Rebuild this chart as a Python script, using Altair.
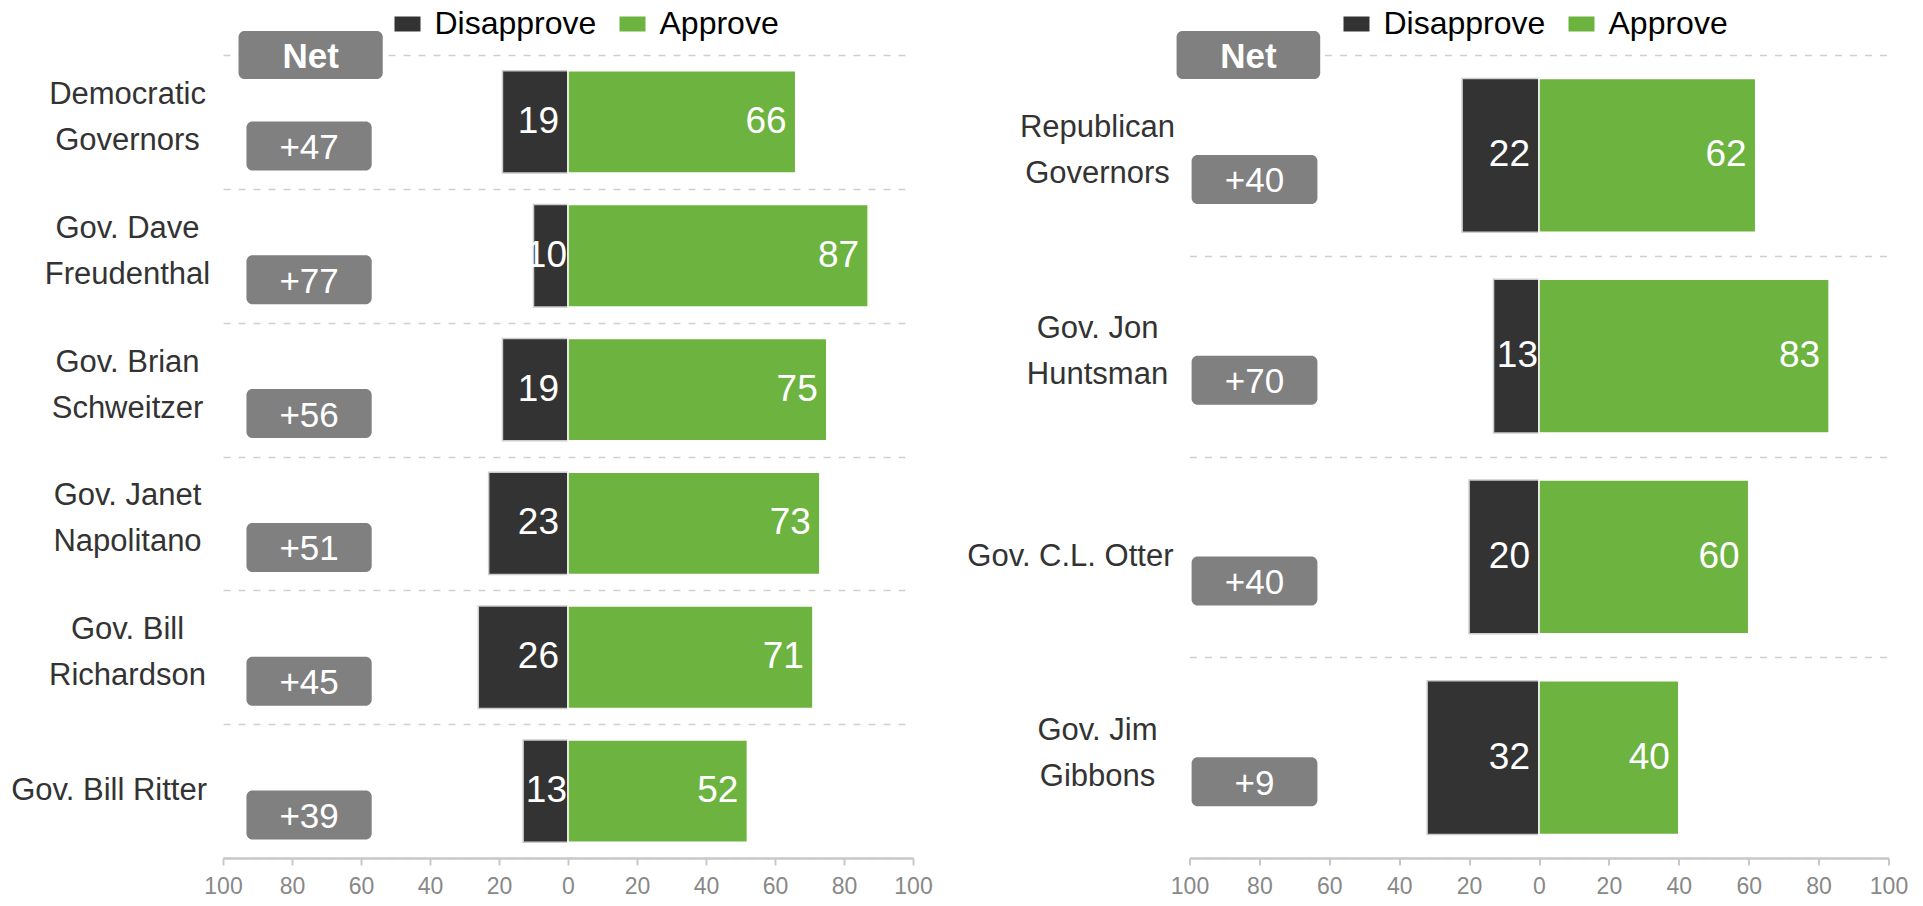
import altair as alt
import pandas as pd

FONT = "Liberation Sans"

# ---- data ----
left_names = ["Democratic|Governors", "Gov. Dave|Freudenthal", "Gov. Brian|Schweitzer",
              "Gov. Janet|Napolitano", "Gov. Bill|Richardson", "Gov. Bill Ritter"]
left_disapprove = [19, 10, 19, 23, 26, 13]
left_approve = [66, 87, 75, 73, 71, 52]
left_net = ["+47", "+77", "+56", "+51", "+45", "+39"]

right_names = ["Republican|Governors", "Gov. Jon|Huntsman", "Gov. C.L. Otter", "Gov. Jim|Gibbons"]
right_disapprove = [22, 13, 20, 32]
right_approve = [62, 83, 60, 40]
right_net = ["+40", "+70", "+40", "+9"]

series = ["Disapprove", "Approve"]
colors = ["#333333", "#6cb33f"]
tick_values = [-100, -80, -60, -40, -20, 0, 20, 40, 60, 80, 100]
header_text = ["Net"]

RECT_PATH = "M-1,-0.577L1,-0.577L1,0.577L-1,0.577Z"


def panel(names, dis, app, net, w, h, multi_pad, lab_size, head_x, box_x, leg_x, leg_y):
    df = pd.DataFrame({"name": names, "Disapprove": dis, "Approve": app, "net": net})
    base = alt.Chart(df)
    yscale = alt.Scale(domain=names, paddingInner=0, paddingOuter=0)
    yaxis = alt.Axis(title=None, grid=True, gridDash=[7, 8], gridColor="#cfcfcf",
                     gridWidth=1.5, tickBand="extent", domain=False, ticks=False,
                     labels=False)
    y_main = alt.Y("name:N", sort=names, scale=yscale, axis=yaxis)
    y_plain = alt.Y("name:N", sort=names, scale=yscale)
    xscale = alt.Scale(domain=[-100, 100], nice=False, zero=False)
    xaxis = alt.Axis(title=None, values=tick_values, labelExpr="abs(datum.value)",
                     grid=False, domainColor="#c8c8c8", domainWidth=2.5,
                     tickColor="#c8c8c8", tickWidth=2, tickSize=7, labelFlush=False,
                     labelFontSize=23, labelFont=FONT, labelColor="#888888",
                     labelPadding=10)

    bars = base.transform_fold(series, as_=["key", "val"]).transform_calculate(
        lo="datum.key == 'Disapprove' ? -datum.val : 0",
        hi="datum.key == 'Disapprove' ? 0 : datum.val",
    ).mark_bar(height={"band": 0.765}, strokeWidth=1.5).encode(
        y=y_main,
        x=alt.X("lo:Q", scale=xscale, axis=xaxis),
        x2="hi:Q",
        color=alt.Color("key:N", scale=alt.Scale(domain=series, range=colors),
                        legend=alt.Legend(orient="none", legendX=leg_x, legendY=leg_y,
                                          direction="horizontal", title=None,
                                          symbolType=RECT_PATH, symbolSize=676,
                                          symbolStrokeWidth=0, labelFontSize=32,
                                          labelFont=FONT, labelColor="#000000",
                                          labelOffset=11, columnPadding=20, padding=0,
                                          labelLimit=0)),
        stroke=alt.Stroke("key:N", scale=alt.Scale(domain=series, range=["#cccccc", "#ffffff"]),
                          legend=None),
    )

    # row labels: two-line ones centred, single-line ones right-aligned
    multi_lab = base.transform_filter("indexof(datum.name, '|') >= 0").mark_text(
        align="center", baseline="middle", lineBreak="|", lineHeight=46,
        dx=-multi_pad, dy=-27, fontSize=lab_size, font=FONT, color="#333333").encode(
        y=y_plain, x=alt.datum(-100), text="name:N")
    single_lab = base.transform_filter("indexof(datum.name, '|') < 0").mark_text(
        align="right", baseline="middle", dx=-16, fontSize=lab_size, font=FONT,
        color="#333333").encode(
        y=y_plain, x=alt.datum(-100), text="name:N")

    dis_wide = base.transform_filter("datum.Disapprove > 14").mark_text(
        align="right", baseline="middle", dx=-9, fontSize=37, font=FONT,
        color="white").encode(y=y_plain, x=alt.datum(0), text="Disapprove:Q")
    dis_narrow = base.transform_filter("datum.Disapprove <= 14").mark_text(
        align="right", baseline="middle", dx=-1, fontSize=37, font=FONT,
        color="white").encode(y=y_plain, x=alt.datum(0), text="Disapprove:Q")
    app_text = base.mark_text(align="right", baseline="middle", dx=-9, fontSize=37,
                              font=FONT, color="white").encode(
        y=y_plain, x="Approve:Q", text="Approve:Q")

    boxes = base.mark_bar(height=49, cornerRadius=6, color="#808080", yOffset=24).encode(
        y=y_plain, x=alt.datum(box_x[0]), x2=alt.datum(box_x[1]))
    box_text = base.mark_text(fontSize=35, font=FONT, color="white", baseline="middle",
                              align="center", yOffset=26).encode(
        y=y_plain, x=alt.datum((box_x[0] + box_x[1]) / 2), text="net:N")

    hdf = pd.DataFrame({"h": header_text})
    head = alt.Chart(hdf).mark_rect(cornerRadius=6, color="#808080").encode(
        x=alt.datum(head_x[0]), x2=alt.datum(head_x[1]), y=alt.value(-24), y2=alt.value(24))
    head_t = alt.Chart(hdf).mark_text(fontSize=35, font=FONT, fontWeight="bold", color="white",
                                      baseline="middle", align="center", dy=2).encode(
        x=alt.datum((head_x[0] + head_x[1]) / 2), y=alt.value(0), text="h:N")

    return alt.layer(bars, multi_lab, single_lab, dis_wide, dis_narrow, app_text, boxes,
                     box_text, head, head_t).properties(width=w, height=h)


left = panel(left_names, left_disapprove, left_approve, left_net, 690, 803, 95.5, 31,
             (-95.5, -53.7), (-93.2, -56.9), 168.5, -47)
right = panel(right_names, right_disapprove, right_approve, right_net, 699, 803, 92, 31,
              (-103.7, -62.6), (-99.4, -63.4), 151, -47)

chart = alt.hconcat(left, right, spacing=33.5).resolve_scale(
    color="independent", stroke="independent", x="independent", y="independent"
).resolve_legend(color="independent").properties(
    padding={"left": 3, "top": 0, "right": 5, "bottom": 5}
).configure_view(strokeWidth=0)

chart.save("out.html", embed_options={"renderer": "svg", "actions": False})
